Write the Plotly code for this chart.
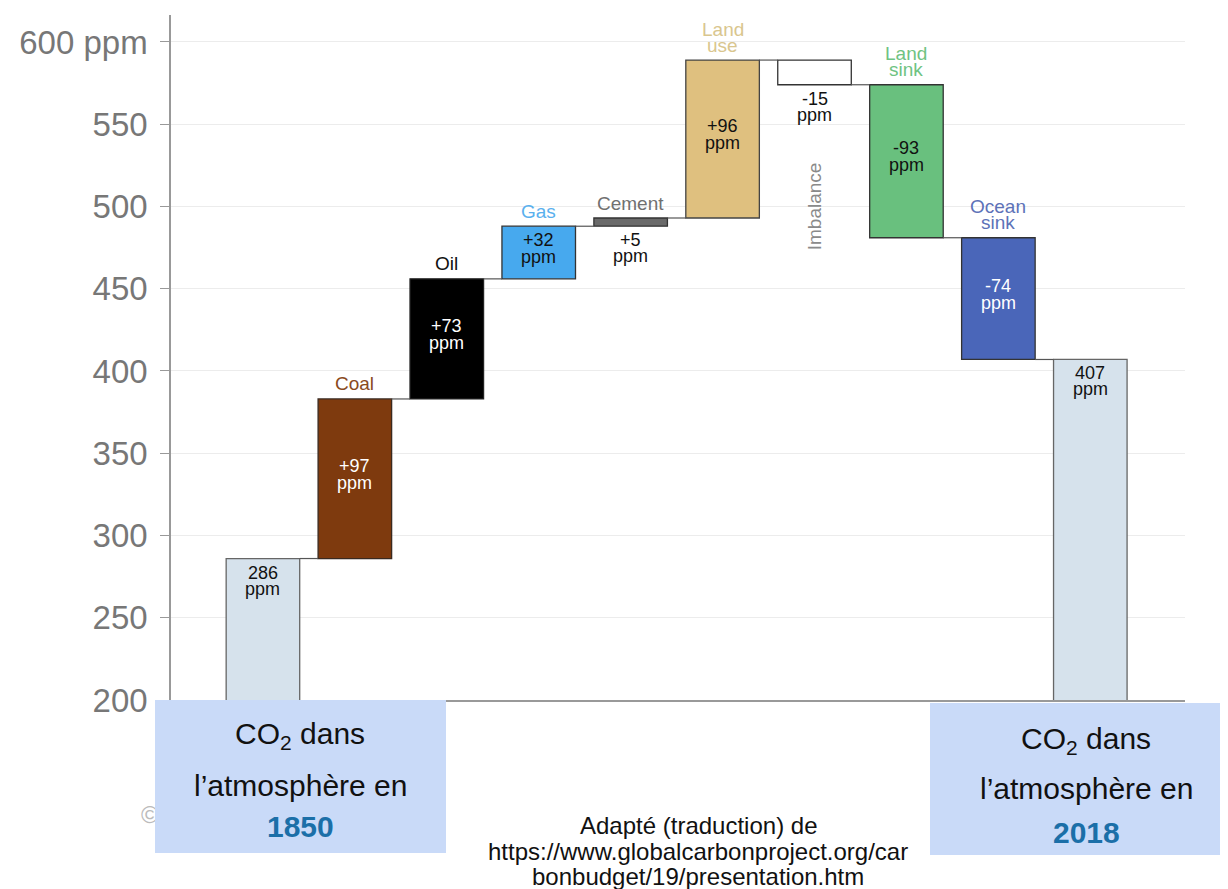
import plotly.graph_objects as go

# ---------------- data ----------------
categories = ["1850", "Coal", "Oil", "Gas", "Cement", "Land use", "Imbalance", "Land sink", "Ocean sink", "2018"]
values = [286, 97, 73, 32, 5, 96, -15, -93, -74, 407]
measures = ["absolute", "relative", "relative", "relative", "relative", "relative", "relative", "relative", "relative", "total"]
value_labels = ["286", "+97", "+73", "+32", "+5", "+96", "-15", "-93", "-74", "407"]
cat_labels = [[], ["Coal"], ["Oil"], ["Gas"], ["Cement"], ["Land", "use"], [], ["Land", "sink"], ["Ocean", "sink"], []]
rotated_label = {6: "Imbalance"}
tick_vals = [200, 250, 300, 350, 400, 450, 500, 550, 600]
tick_text = ["200", "250", "300", "350", "400", "450", "500", "550", "600 ppm"]

# ---------------- styles ----------------
fill_colors = ["#d6e2ec", "#7e3a0e", "#000000", "#47a9ee", "#6a6a6a", "#dfc07f", "#ffffff", "#69c07e", "#4a66b9", "#d6e2ec"]
line_colors = ["#666666", "#3a2a20", "#222222", "#333333", "#333333", "#444444", "#333333", "#333333", "#333333", "#666666"]
value_colors = ["#111", "#fff", "#fff", "#111", "#111", "#111", "#111", "#111", "#fff", "#111"]
value_mode = ["top", "center", "center", "center", "below", "center", "below", "center", "center", "top"]
cat_colors = ["#000", "#8a4a1e", "#111111", "#5ab0ee", "#707070", "#d9c68e", "#8a8a8a", "#6fc382", "#5d72b8", "#000"]

FONT = "Liberation Sans, Arial, sans-serif"

# ---------------- computed bases ----------------
bases, heights = [], []
running = 0
for v, m in zip(values, measures):
    if m == "absolute":
        bases.append(0); heights.append(v); running = v
    elif m == "total":
        bases.append(0); heights.append(running)
    else:
        bases.append(running); heights.append(v); running += v

idx = list(range(len(categories)))
W = 0.8

fig = go.Figure()
fig.add_trace(go.Bar(
    x=idx, y=heights, base=bases, width=W,
    marker=dict(color=fill_colors, line=dict(color=line_colors, width=1.3)),
    hoverinfo="skip", showlegend=False,
))

# connectors
cx, cy = [], []
for i in range(len(idx) - 1):
    lvl = bases[i] + heights[i]
    cx += [i + W / 2, i + 1 - W / 2, None]
    cy += [lvl, lvl, None]
fig.add_trace(go.Scatter(x=cx, y=cy, mode="lines", line=dict(color="#555555", width=1.2),
                         hoverinfo="skip", showlegend=False))

ann = []


def add_text(x, y, text, yshift, color, size, font=FONT, **kw):
    d = dict(x=x, y=y, xref="x", yref="y", text=text, showarrow=False, yshift=yshift,
             xanchor="center", yanchor="middle", font=dict(family=font, size=size, color=color))
    d.update(kw)
    ann.append(d)


for i in idx:
    lo = min(bases[i], bases[i] + heights[i])
    hi = max(bases[i], bases[i] + heights[i])
    mode = value_mode[i]
    if mode == "center":
        yc = (lo + hi) / 2
        s1, s2 = 13, -4
    elif mode == "top":
        yc = hi
        s1, s2 = -14, -30
    else:
        yc = lo
        s1, s2 = -14, -30
    add_text(i, yc, value_labels[i], s1, value_colors[i], 18)
    add_text(i, yc, "ppm", s2, value_colors[i], 18)
    lines = cat_labels[i]
    n = len(lines)
    for k, t in enumerate(lines):
        shift = 15 + 16 * (n - 1 - k)
        add_text(i, hi, t, shift, cat_colors[i], 19)
    if i in rotated_label:
        add_text(i, lo, rotated_label[i], -122, cat_colors[i], 19, textangle=-90)

# ---------------- bottom boxes (paper px helpers) ----------------
L, T, PW, PH = 171, 15, 1014, 685


def px(xp):
    return (xp - L) / PW


def py(yp):
    return (T + PH - yp) / PH


def paper_text(xp, yp, text, size, color, font=FONT, **kw):
    d = dict(x=px(xp), y=py(yp), xref="paper", yref="paper", text=text, showarrow=False,
             xanchor="center", yanchor="middle", font=dict(family=font, size=size, color=color))
    d.update(kw)
    ann.append(d)


# copyright mark partially hidden behind the left box
paper_text(150, 815, "©", 24, "#bbbbbb")

for (x0, x1, y0, y1, year, tx, ys) in [(155, 446, 700, 853, "1850", 300, (735, 785, 826)),
                                       (930, 1220, 703, 855, "2018", 1086, (740, 788, 832))]:
    ann.append(dict(x=px((x0 + x1) / 2), y=py((y0 + y1) / 2), xref="paper", yref="paper",
                    text=" ", showarrow=False, width=x1 - x0, height=y1 - y0,
                    bgcolor="#c9daf8", borderpad=0, borderwidth=0,
                    xanchor="center", yanchor="middle"))
    paper_text(tx, ys[0], "CO<sub>2</sub> dans", 30, "#111111")
    paper_text(tx, ys[1], "l’atmosphère en", 30, "#111111")
    paper_text(tx, ys[2], "<b>" + year + "</b>", 30, "#1b6fa8")

for yl, t in zip((825, 851, 876), ["Adapté (traduction) de",
                                   "https://www.globalcarbonproject.org/car",
                                   "bonbudget/19/presentation.htm"]):
    paper_text(698, yl, t, 24, "#111111")

fig.update_layout(
    width=1228, height=889,
    margin=dict(l=L, r=1228 - L - PW, t=T, b=889 - T - PH, pad=0),
    plot_bgcolor="white", paper_bgcolor="white",
    annotations=ann,
    bargap=0.2,
)
fig.update_xaxes(range=[-1.0, 10.03], showgrid=False, zeroline=False, showticklabels=False,
                 showline=True, linecolor="#999999", linewidth=1.5, ticks="")
fig.update_yaxes(range=[200, 616.4], tickvals=tick_vals, ticktext=tick_text,
                 tickfont=dict(family=FONT, size=33, color="#777777"),
                 showgrid=True, gridcolor="#ececec", gridwidth=1, zeroline=False,
                 showline=True, linecolor="#999999", linewidth=1.5,
                 ticks="outside", ticklen=9, tickcolor="#999999", tickwidth=1.2,
                 ticklabelstandoff=6)

fig.write_html("out.html", config={"displayModeBar": False},
               post_script="document.body.style.margin='0';document.body.style.overflow='hidden';")
